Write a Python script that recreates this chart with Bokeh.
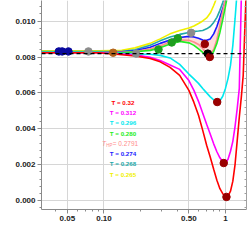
from bokeh.plotting import figure
from bokeh.models import FixedTicker, Span, Label, LinearAxis, NumeralTickFormatter
from bokeh.embed import file_html
from bokeh.resources import INLINE

# ---------------- data ----------------
# abscissa (3X)^{1/3}, shared by all curves
x_grid = [0.03, 0.09, 0.14, 0.18, 0.24, 0.29, 0.35, 0.42, 0.5, 0.55, 0.6, 0.65, 0.7,
          0.75, 0.8, 0.85, 0.9, 0.95, 1.0, 1.05, 1.1, 1.15, 1.2, 1.25, 1.3, 1.35,
          1.4, 1.45, 1.5]

L_T0320 = [0.00824, 0.00824, 0.00813, 0.00806, 0.00792, 0.00773, 0.00742, 0.00698, 0.00614,
           0.00547, 0.00475, 0.00391, 0.00308, 0.00241, 0.00174, 0.00113, 0.00066, 0.00038,
           0.00021, 0.00024, 0.00052, 0.00108, 0.00202, 0.00335, 0.00464, 0.00575, 0.00698,
           0.00993, 0.01254]
L_T0312 = [0.00824, 0.00824, 0.00817, 0.00812, 0.00798, 0.00781, 0.00756, 0.00731, 0.00669,
           0.00614, 0.00553, 0.00486, 0.00425, 0.00370, 0.00316, 0.00272, 0.00238, 0.00216,
           0.00210, 0.00230, 0.00275, 0.00330, 0.00414, 0.00514, 0.00625, 0.01126, 0.01449,
           0.01784, 0.02118]
L_T0296 = [0.00826, 0.00826, 0.00820, 0.00817, 0.00815, 0.00809, 0.00795, 0.00759, 0.00705,
           0.00678, 0.00653, 0.00625, 0.00600, 0.00578, 0.00561, 0.00550, 0.00556, 0.00581,
           0.00625, 0.00681, 0.00753, 0.00865, 0.01015, 0.01171, 0.01338, 0.01505, 0.01672,
           0.01839, 0.02006]
L_T0280 = [0.00826, 0.00826, 0.00824, 0.00829, 0.00837, 0.00851, 0.00873, 0.00887, 0.00879,
           0.00865, 0.00845, 0.00826, 0.00806, 0.00804, 0.00831, 0.00876, 0.00937, 0.01009,
           0.01082, 0.01160, 0.01254, 0.01366, 0.01477, 0.01588, 0.01700, 0.01811, 0.01922,
           0.02033, 0.02145]
L_THP = [0.00826, 0.00826, 0.00826, 0.00831, 0.00845, 0.00862, 0.00884, 0.00895, 0.00893,
         0.00884, 0.00870, 0.00848, 0.00820, 0.00821, 0.00842, 0.00898, 0.00976, 0.01054,
         0.01126, 0.01203, 0.01298, 0.01400, 0.01500, 0.01600, 0.01700, 0.01800, 0.01900,
         0.02000, 0.02100]
L_T0274 = [0.00829, 0.00829, 0.00829, 0.00835, 0.00854, 0.00876, 0.00895, 0.00909, 0.00915,
           0.00912, 0.00904, 0.00895, 0.00893, 0.00901, 0.00929, 0.00970, 0.01021, 0.01071,
           0.01115, 0.01171, 0.01238, 0.01310, 0.01390, 0.01470, 0.01550, 0.01630, 0.01710,
           0.01790, 0.01870]
L_T0268 = [0.00831, 0.00831, 0.00831, 0.00840, 0.00865, 0.00890, 0.00911, 0.00926, 0.00937,
           0.00943, 0.00945, 0.00948, 0.00957, 0.00970, 0.00993, 0.01021, 0.01060, 0.01104,
           0.01155, 0.01215, 0.01280, 0.01350, 0.01420, 0.01490, 0.01560, 0.01630, 0.01700,
           0.01770, 0.01840]
L_T0265 = [0.00834, 0.00834, 0.00837, 0.00851, 0.00876, 0.00901, 0.00929, 0.00948, 0.00962,
           0.00973, 0.00987, 0.01001, 0.01018, 0.01045, 0.01087, 0.01132, 0.01188, 0.01250,
           0.01320, 0.01390, 0.01460, 0.01530, 0.01600, 0.01670, 0.01740, 0.01810, 0.01880,
           0.01950, 0.02020]

# Hawking-Page level (dashed line)
L_HP_level = 0.00819

# marked points
dot_x = [0.0425, 0.0453, 0.0510, 0.0745, 0.119, 0.184, 0.281, 0.361, 0.405, 0.522,
         0.676, 0.715, 0.743, 0.855, 0.968, 1.019]
dot_L = [0.00831, 0.00831, 0.00831, 0.00831, 0.00824, 0.00819, 0.00842, 0.00881, 0.00904,
         0.00935, 0.00872, 0.00819, 0.00800, 0.00549, 0.00209, 0.00020]
dot_color = ["#0a0a9e", "#0a0a9e", "#0a0a9e", "#8c8c8c", "#b5651d", "#8c8c8c",
             "#1e9e1e", "#1e9e1e", "#1e9e1e", "#8c8c8c", "#990000", "#000000",
             "#990000", "#990000", "#990000", "#990000"]

T_labels = ["0.32", "0.312", "0.296", "0.280", "0.2791", "0.274", "0.268", "0.265"]
T_colors = ["#ff0000", "#ff00ff", "#00e8ee", "#22ee22", "#ff8c8c", "#1a1aff", "#20a8a8", "#f0f000"]

x_ticks = [0.05, 0.1, 0.5, 1]
x_tick_labels = ["0.05", "0.10", "0.50", "1"]
x_minor = [0.03, 0.04, 0.06, 0.07, 0.08, 0.09, 0.2, 0.3, 0.4, 0.6, 0.7, 0.8, 0.9]
y_ticks = [0.0, 0.002, 0.004, 0.006, 0.008, 0.010]
y_minor = [i * 0.0004 for i in range(-1, 28)]

# ---------------- figure ----------------
FONT = "Liberation Sans"
p = figure(width=250, height=241, x_axis_type="log", x_range=(0.0306, 1.49),
           y_range=(-0.0005, 0.01115), output_backend="svg", toolbar_location=None,
           min_border_left=41, min_border_right=4, min_border_top=0, min_border_bottom=32)
p.styles = {"position": "absolute", "left": "0px", "top": "0px"}
p.outline_line_color = None
p.background_fill_color = "white"
p.border_fill_color = "white"

p.xaxis.ticker = FixedTicker(ticks=x_ticks, minor_ticks=x_minor)
p.xaxis.major_label_overrides = dict(zip(x_ticks, x_tick_labels))
p.yaxis.ticker = FixedTicker(ticks=y_ticks, minor_ticks=y_minor)
p.yaxis.formatter = NumeralTickFormatter(format="0.000")

for ax in (p.xaxis[0], p.yaxis[0]):
    ax.axis_line_color = "#8a8a8a"
    ax.major_tick_line_color = "#8a8a8a"
    ax.minor_tick_line_color = "#8a8a8a"
    ax.major_tick_out = 4
    ax.major_tick_in = 0
    ax.minor_tick_out = 2
    ax.minor_tick_in = 0
    ax.major_label_text_font = FONT
    ax.major_label_text_font_style = "bold"
    ax.major_label_text_font_size = "8px"
    ax.major_label_text_color = "#222222"
    ax.major_label_standoff = 2

# right frame edge with inward ticks only (no labels)
right_ax = LinearAxis(ticker=FixedTicker(ticks=[], minor_ticks=y_ticks + y_minor),
                      axis_line_color="#a0a0a0", minor_tick_line_color="#a0a0a0",
                      minor_tick_in=2, minor_tick_out=0, major_tick_in=0, major_tick_out=0,
                      major_label_standoff=0)
p.add_layout(right_ax, "right")

p.grid.grid_line_color = "#d6d6d6"
p.grid.grid_line_width = 1

# band between T=0.280 and T=0.274
p.varea(x=x_grid, y1=L_T0280, y2=L_T0274, fill_color="#ff8080", fill_alpha=0.28)

curves = [L_T0320, L_T0312, L_T0296, L_T0280, L_THP, L_T0274, L_T0268, L_T0265]
for L, c in reversed(list(zip(curves, T_colors))):
    p.line(x_grid, L, line_color=c, line_width=1.6)

p.add_layout(Span(location=L_HP_level, dimension="width", line_color="black",
                  line_dash="4 3", line_width=1.4))

p.scatter(dot_x, dot_L, size=7.5, fill_color=dot_color, line_color=dot_color)

# legend-like text block
lx = 0.1433
ly0 = 0.005473
dly = 0.000572
for i, (t, c) in enumerate(zip(T_labels, T_colors)):
    y = ly0 - i * dly
    if i == 4:
        p.add_layout(Label(x=lx, y=y, x_offset=-21, text="T", text_color=c,
                           text_font=FONT, text_font_style="italic", text_font_size="6.5px",
                           text_baseline="middle", text_align="left"))
        p.add_layout(Label(x=lx, y=y, x_offset=-16.8, y_offset=-2, text="HP", text_color=c,
                           text_font=FONT, text_font_size="4.5px",
                           text_baseline="middle", text_align="left"))
        p.add_layout(Label(x=lx, y=y, x_offset=-10.3, text=" = " + t, text_color=c,
                           text_font=FONT, text_font_size="6.5px",
                           text_baseline="middle", text_align="left"))
    else:
        p.add_layout(Label(x=lx, y=y, text="T = " + t, text_color=c, text_font=FONT,
                           text_font_style="bold", text_font_size="6.2px",
                           text_baseline="middle", text_align="center"))

# axis titles
p.add_layout(Label(x=0.01497, y=0.005195, text="L", text_font=FONT, text_font_size="9px",
                   text_color="#222222", text_baseline="middle", text_align="left"))
p.add_layout(Label(x=0.1561, y=-0.00188, text="(3X)", text_font=FONT, text_font_size="9px",
                   text_color="#222222", text_baseline="middle", text_align="left"))
p.add_layout(Label(x=0.2154, y=-0.00158, text="1/3", text_font=FONT, text_font_size="6px",
                   text_color="#222222", text_baseline="middle", text_align="left"))

open("out.html", "w").write(file_html(p, INLINE))
